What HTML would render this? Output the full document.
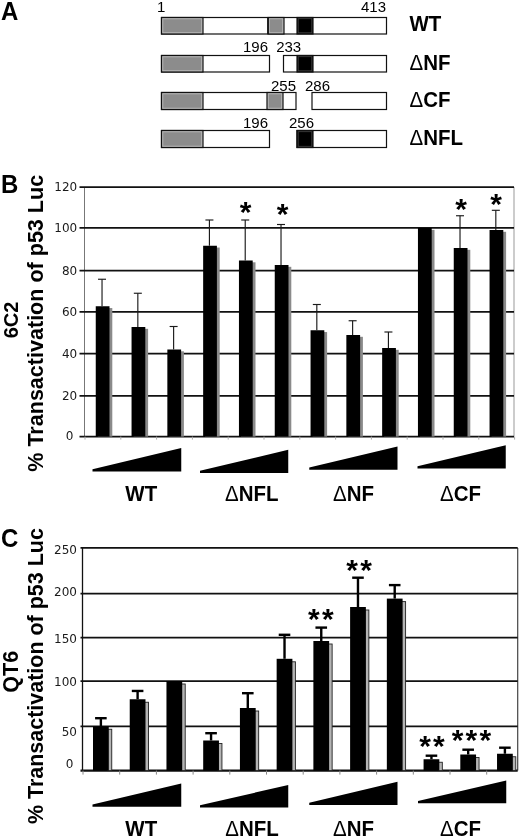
<!DOCTYPE html>
<html><head><meta charset="utf-8"><title>Figure</title>
<style>
html,body{margin:0;padding:0;background:#fff}
svg{display:block}
.b{font-family:"Liberation Sans",Arial,sans-serif;font-weight:bold;fill:#000}
.n{font-family:"Liberation Sans",Arial,sans-serif;font-weight:normal;fill:#000}
.v{font-family:"DejaVu Sans",Verdana,sans-serif;fill:#1a1a1a}
</style></head><body>
<svg width="520" height="838" viewBox="0 0 520 838">
<rect width="520" height="838" fill="#fff"/>

<g id="panelA">
<text class="b" font-size="24" text-anchor="start" transform="translate(1,19.5) scale(1,1.045)">A</text>
<rect x="161.5" y="17.5" width="225.0" height="16.5" fill="#fff" stroke="#111" stroke-width="1.2"/>
<rect x="161.5" y="17.5" width="41.5" height="16.5" fill="#8c8c8c" stroke="#111" stroke-width="1.2"/>
<rect x="162.8" y="18.8" width="38.9" height="13.9" fill="none" stroke="#b8b8b8" stroke-width="0.9"/>
<rect x="268" y="17.5" width="16" height="16.5" fill="#8c8c8c" stroke="#111" stroke-width="1.2"/>
<rect x="269.3" y="18.8" width="13.4" height="13.9" fill="none" stroke="#b8b8b8" stroke-width="0.9"/>
<rect x="297" y="17.5" width="16" height="16.5" fill="#000" stroke="#111" stroke-width="1.2"/>
<rect x="298.2" y="18.7" width="13.6" height="14.1" fill="none" stroke="#444" stroke-width="0.8"/>
<line x1="268" x2="268" y1="17.5" y2="34" stroke="#111" stroke-width="1.6"/>
<rect x="161.5" y="55.5" width="108.0" height="16.5" fill="#fff" stroke="#111" stroke-width="1.2"/>
<rect x="161.5" y="55.5" width="41.5" height="16.5" fill="#8c8c8c" stroke="#111" stroke-width="1.2"/>
<rect x="162.8" y="56.8" width="38.9" height="13.9" fill="none" stroke="#b8b8b8" stroke-width="0.9"/>
<rect x="283.5" y="55.5" width="103.0" height="16.5" fill="#fff" stroke="#111" stroke-width="1.2"/>
<rect x="297" y="55.5" width="16" height="16.5" fill="#000" stroke="#111" stroke-width="1.2"/>
<rect x="298.2" y="56.7" width="13.6" height="14.1" fill="none" stroke="#444" stroke-width="0.8"/>
<rect x="161.5" y="92.5" width="134.5" height="17.0" fill="#fff" stroke="#111" stroke-width="1.2"/>
<rect x="161.5" y="92.5" width="41.5" height="17.0" fill="#8c8c8c" stroke="#111" stroke-width="1.2"/>
<rect x="162.8" y="93.8" width="38.9" height="14.4" fill="none" stroke="#b8b8b8" stroke-width="0.9"/>
<rect x="267" y="92.5" width="16" height="17.0" fill="#8c8c8c" stroke="#111" stroke-width="1.2"/>
<rect x="268.3" y="93.8" width="13.4" height="14.4" fill="none" stroke="#b8b8b8" stroke-width="0.9"/>
<rect x="312" y="92.5" width="74.5" height="17.0" fill="#fff" stroke="#111" stroke-width="1.2"/>
<rect x="161.5" y="130.5" width="108.0" height="17.0" fill="#fff" stroke="#111" stroke-width="1.2"/>
<rect x="161.5" y="130.5" width="41.5" height="17.0" fill="#8c8c8c" stroke="#111" stroke-width="1.2"/>
<rect x="162.8" y="131.8" width="38.9" height="14.4" fill="none" stroke="#b8b8b8" stroke-width="0.9"/>
<rect x="297" y="130.5" width="89.5" height="17.0" fill="#fff" stroke="#111" stroke-width="1.2"/>
<rect x="297" y="130.5" width="16" height="17.0" fill="#000" stroke="#111" stroke-width="1.2"/>
<rect x="298.2" y="131.7" width="13.6" height="14.6" fill="none" stroke="#444" stroke-width="0.8"/>
<text class="n" x="157" y="12.1" font-size="15" text-anchor="start">1</text>
<text class="n" x="361" y="12.1" font-size="15" text-anchor="start">413</text>
<text class="n" x="243" y="52" font-size="15" text-anchor="start">196</text>
<text class="n" x="276.2" y="52" font-size="15" text-anchor="start">233</text>
<text class="n" x="271" y="90.5" font-size="15" text-anchor="start">255</text>
<text class="n" x="305" y="90.5" font-size="15" text-anchor="start">286</text>
<text class="n" x="243" y="128" font-size="15" text-anchor="start">196</text>
<text class="n" x="289" y="128" font-size="15" text-anchor="start">256</text>
<text class="b" font-size="20.5" text-anchor="start" transform="translate(409.5,30.5) scale(1,1.045)">WT</text>
<text class="b" font-size="20.5" text-anchor="start" transform="translate(409.5,70) scale(1,1.045)"><tspan font-weight="normal">Δ</tspan>NF</text>
<text class="b" font-size="20.5" text-anchor="start" transform="translate(409.5,106.5) scale(1,1.045)"><tspan font-weight="normal">Δ</tspan>CF</text>
<text class="b" font-size="20.5" text-anchor="start" transform="translate(409.5,144.5) scale(1,1.045)"><tspan font-weight="normal">Δ</tspan>NFL</text>
</g>
<g id="panelB">
<text class="b" font-size="24" text-anchor="start" transform="translate(1,192.5) scale(1,1.045)">B</text>
<text class="b" font-size="20" text-anchor="middle" transform="translate(17.9,320) rotate(-90) scale(1,1.045)">6C2</text>
<text class="b" font-size="21.55" text-anchor="middle" transform="translate(43.0,323.3) rotate(-90) scale(1,1.045)">% Transactivation of p53 Luc</text>
<line x1="84.5" x2="84.5" y1="187" y2="436.5" stroke="#777" stroke-width="1"/>
<line x1="514" x2="514" y1="187" y2="436.5" stroke="#999" stroke-width="1"/>
<line x1="79.5" x2="514" y1="187.20" y2="187.20" stroke="#111" stroke-width="1.7"/>
<text class="v" x="77.2" y="191.10" font-size="12" text-anchor="end">120</text>
<line x1="79.5" x2="514" y1="227.90" y2="227.90" stroke="#111" stroke-width="1.7"/>
<text class="v" x="77.2" y="231.80" font-size="12" text-anchor="end">100</text>
<line x1="79.5" x2="514" y1="270.60" y2="270.60" stroke="#111" stroke-width="1.7"/>
<text class="v" x="77.2" y="274.50" font-size="12" text-anchor="end">80</text>
<line x1="79.5" x2="514" y1="311.90" y2="311.90" stroke="#111" stroke-width="1.7"/>
<text class="v" x="77.2" y="315.80" font-size="12" text-anchor="end">60</text>
<line x1="79.5" x2="514" y1="353.60" y2="353.60" stroke="#111" stroke-width="1.7"/>
<text class="v" x="77.2" y="357.50" font-size="12" text-anchor="end">40</text>
<line x1="79.5" x2="514" y1="395.80" y2="395.80" stroke="#111" stroke-width="1.7"/>
<text class="v" x="77.2" y="399.70" font-size="12" text-anchor="end">20</text>
<line x1="79.5" x2="514" y1="436.60" y2="436.60" stroke="#111" stroke-width="1.7"/>
<text class="v" x="73.4" y="439.60" font-size="12" text-anchor="end">0</text>
<line x1="85.00" x2="85.00" y1="436.6" y2="439.6" stroke="#aaa" stroke-width="1"/>
<line x1="120.80" x2="120.80" y1="436.6" y2="439.6" stroke="#aaa" stroke-width="1"/>
<line x1="156.60" x2="156.60" y1="436.6" y2="439.6" stroke="#aaa" stroke-width="1"/>
<line x1="192.40" x2="192.40" y1="436.6" y2="439.6" stroke="#aaa" stroke-width="1"/>
<line x1="228.20" x2="228.20" y1="436.6" y2="439.6" stroke="#aaa" stroke-width="1"/>
<line x1="264.00" x2="264.00" y1="436.6" y2="439.6" stroke="#aaa" stroke-width="1"/>
<line x1="299.80" x2="299.80" y1="436.6" y2="439.6" stroke="#aaa" stroke-width="1"/>
<line x1="335.60" x2="335.60" y1="436.6" y2="439.6" stroke="#aaa" stroke-width="1"/>
<line x1="371.40" x2="371.40" y1="436.6" y2="439.6" stroke="#aaa" stroke-width="1"/>
<line x1="407.20" x2="407.20" y1="436.6" y2="439.6" stroke="#aaa" stroke-width="1"/>
<line x1="443.00" x2="443.00" y1="436.6" y2="439.6" stroke="#aaa" stroke-width="1"/>
<line x1="478.80" x2="478.80" y1="436.6" y2="439.6" stroke="#aaa" stroke-width="1"/>
<line x1="514.60" x2="514.60" y1="436.6" y2="439.6" stroke="#aaa" stroke-width="1"/>
<rect x="97.75" y="308.05" width="14.55" height="128.55" fill="#8a8a8a"/>
<rect x="95.75" y="306.25" width="13.75" height="130.35" fill="#000"/>
<line x1="102.03" x2="102.03" y1="279.25" y2="306.25" stroke="#1a1a1a" stroke-width="1.15"/>
<line x1="98.03" x2="106.03" y1="279.25" y2="279.25" stroke="#1a1a1a" stroke-width="1.15"/>
<rect x="133.55" y="328.80" width="14.55" height="107.80" fill="#8a8a8a"/>
<rect x="131.55" y="327.00" width="13.75" height="109.60" fill="#000"/>
<line x1="137.83" x2="137.83" y1="293.25" y2="327" stroke="#1a1a1a" stroke-width="1.15"/>
<line x1="133.83" x2="141.83" y1="293.25" y2="293.25" stroke="#1a1a1a" stroke-width="1.15"/>
<rect x="169.35" y="351.30" width="14.55" height="85.30" fill="#8a8a8a"/>
<rect x="167.35" y="349.50" width="13.75" height="87.10" fill="#000"/>
<line x1="173.62" x2="173.62" y1="326.5" y2="349.5" stroke="#1a1a1a" stroke-width="1.15"/>
<line x1="169.62" x2="177.62" y1="326.5" y2="326.5" stroke="#1a1a1a" stroke-width="1.15"/>
<rect x="205.15" y="247.55" width="14.55" height="189.05" fill="#8a8a8a"/>
<rect x="203.15" y="245.75" width="13.75" height="190.85" fill="#000"/>
<line x1="209.42" x2="209.42" y1="220" y2="245.75" stroke="#1a1a1a" stroke-width="1.15"/>
<line x1="205.42" x2="213.42" y1="220" y2="220" stroke="#1a1a1a" stroke-width="1.15"/>
<rect x="240.95" y="262.30" width="14.55" height="174.30" fill="#8a8a8a"/>
<rect x="238.95" y="260.50" width="13.75" height="176.10" fill="#000"/>
<line x1="245.22" x2="245.22" y1="220" y2="260.5" stroke="#1a1a1a" stroke-width="1.15"/>
<line x1="241.22" x2="249.22" y1="220" y2="220" stroke="#1a1a1a" stroke-width="1.15"/>
<rect x="276.75" y="266.80" width="14.55" height="169.80" fill="#8a8a8a"/>
<rect x="274.75" y="265.00" width="13.75" height="171.60" fill="#000"/>
<line x1="281.02" x2="281.02" y1="224.5" y2="265" stroke="#1a1a1a" stroke-width="1.15"/>
<line x1="277.02" x2="285.02" y1="224.5" y2="224.5" stroke="#1a1a1a" stroke-width="1.15"/>
<rect x="312.55" y="332.05" width="14.55" height="104.55" fill="#8a8a8a"/>
<rect x="310.55" y="330.25" width="13.75" height="106.35" fill="#000"/>
<line x1="316.82" x2="316.82" y1="304.5" y2="330.25" stroke="#1a1a1a" stroke-width="1.15"/>
<line x1="312.82" x2="320.82" y1="304.5" y2="304.5" stroke="#1a1a1a" stroke-width="1.15"/>
<rect x="348.35" y="336.80" width="14.55" height="99.80" fill="#8a8a8a"/>
<rect x="346.35" y="335.00" width="13.75" height="101.60" fill="#000"/>
<line x1="352.62" x2="352.62" y1="320.75" y2="335" stroke="#1a1a1a" stroke-width="1.15"/>
<line x1="348.62" x2="356.62" y1="320.75" y2="320.75" stroke="#1a1a1a" stroke-width="1.15"/>
<rect x="384.15" y="349.80" width="14.55" height="86.80" fill="#8a8a8a"/>
<rect x="382.15" y="348.00" width="13.75" height="88.60" fill="#000"/>
<line x1="388.42" x2="388.42" y1="332" y2="348" stroke="#1a1a1a" stroke-width="1.15"/>
<line x1="384.42" x2="392.42" y1="332" y2="332" stroke="#1a1a1a" stroke-width="1.15"/>
<rect x="419.95" y="229.80" width="14.55" height="206.80" fill="#8a8a8a"/>
<rect x="417.95" y="228.00" width="13.75" height="208.60" fill="#000"/>
<rect x="455.75" y="249.80" width="14.55" height="186.80" fill="#8a8a8a"/>
<rect x="453.75" y="248.00" width="13.75" height="188.60" fill="#000"/>
<line x1="460.02" x2="460.02" y1="215.75" y2="248" stroke="#1a1a1a" stroke-width="1.15"/>
<line x1="456.02" x2="464.02" y1="215.75" y2="215.75" stroke="#1a1a1a" stroke-width="1.15"/>
<rect x="491.55" y="231.80" width="14.55" height="204.80" fill="#8a8a8a"/>
<rect x="489.55" y="230.00" width="13.75" height="206.60" fill="#000"/>
<line x1="495.82" x2="495.82" y1="210.3" y2="230" stroke="#1a1a1a" stroke-width="1.15"/>
<line x1="491.82" x2="499.82" y1="210.3" y2="210.3" stroke="#1a1a1a" stroke-width="1.15"/>
<text class="b" x="245.60" y="222.10" font-size="30" text-anchor="middle">*</text>
<text class="b" x="282.50" y="223.85" font-size="30" text-anchor="middle">*</text>
<text class="b" x="461.00" y="219.10" font-size="30" text-anchor="middle">*</text>
<text class="b" x="496.20" y="213.80" font-size="30" text-anchor="middle">*</text>
<polygon points="92.5,469.2 181.25,448 181.25,471.5 92.5,471.5" fill="#000"/>
<polygon points="200,470.7 288.25,449.75 288.25,473 200,473" fill="#000"/>
<polygon points="309.25,467.45 397.5,446.5 397.5,469.75 309.25,469.75" fill="#000"/>
<polygon points="417.5,466.2 505.75,445.25 505.75,468.5 417.5,468.5" fill="#000"/>
<text class="b" font-size="20.5" text-anchor="middle" transform="translate(141.25,500.5) scale(1,1.045)">WT</text>
<text class="b" font-size="20.5" text-anchor="middle" transform="translate(251.7,500.8) scale(1,1.045)"><tspan font-weight="normal">Δ</tspan>NFL</text>
<text class="b" font-size="20.5" text-anchor="middle" transform="translate(353.6,500.9) scale(1,1.045)"><tspan font-weight="normal">Δ</tspan>NF</text>
<text class="b" font-size="20.5" text-anchor="middle" transform="translate(460.6,500.9) scale(1,1.045)"><tspan font-weight="normal">Δ</tspan>CF</text>
</g>
<g id="panelC">
<text class="b" font-size="24" text-anchor="start" transform="translate(1,547) scale(1,1.045)">C</text>
<text class="b" font-size="21.5" text-anchor="middle" transform="translate(17.9,671.8) rotate(-90) scale(1,1.045)">QT6</text>
<text class="b" font-size="21.5" text-anchor="middle" transform="translate(42.9,676.1) rotate(-90) scale(1,1.045)">% Transactivation of p53 Luc</text>
<line x1="82.5" x2="82.5" y1="548" y2="770.5" stroke="#111" stroke-width="1.3"/>
<line x1="517.7" x2="517.7" y1="548" y2="770.5" stroke="#444" stroke-width="1.2"/>
<line x1="80.5" x2="517.7" y1="547.90" y2="547.90" stroke="#111" stroke-width="1.75"/>
<text class="v" x="77" y="554.25" font-size="12" text-anchor="end">250</text>
<line x1="80.5" x2="517.7" y1="593.50" y2="593.50" stroke="#111" stroke-width="1.75"/>
<text class="v" x="77" y="595.9" font-size="12" text-anchor="end">200</text>
<line x1="80.5" x2="517.7" y1="637.70" y2="637.70" stroke="#111" stroke-width="1.75"/>
<text class="v" x="77" y="643" font-size="12" text-anchor="end">150</text>
<line x1="80.5" x2="517.7" y1="681.00" y2="681.00" stroke="#111" stroke-width="1.75"/>
<text class="v" x="77" y="686" font-size="12" text-anchor="end">100</text>
<line x1="80.5" x2="517.7" y1="726.40" y2="726.40" stroke="#111" stroke-width="1.75"/>
<text class="v" x="77" y="736.25" font-size="12" text-anchor="end">50</text>
<line x1="80.5" x2="517.7" y1="770.60" y2="770.60" stroke="#111" stroke-width="2.1"/>
<text class="v" x="73.5" y="768" font-size="12" text-anchor="end">0</text>
<line x1="83.00" x2="83.00" y1="770.6" y2="774.6" stroke="#888" stroke-width="1"/>
<line x1="119.70" x2="119.70" y1="770.6" y2="774.6" stroke="#888" stroke-width="1"/>
<line x1="156.40" x2="156.40" y1="770.6" y2="774.6" stroke="#888" stroke-width="1"/>
<line x1="193.10" x2="193.10" y1="770.6" y2="774.6" stroke="#888" stroke-width="1"/>
<line x1="229.80" x2="229.80" y1="770.6" y2="774.6" stroke="#888" stroke-width="1"/>
<line x1="266.50" x2="266.50" y1="770.6" y2="774.6" stroke="#888" stroke-width="1"/>
<line x1="303.20" x2="303.20" y1="770.6" y2="774.6" stroke="#888" stroke-width="1"/>
<line x1="339.90" x2="339.90" y1="770.6" y2="774.6" stroke="#888" stroke-width="1"/>
<line x1="376.60" x2="376.60" y1="770.6" y2="774.6" stroke="#888" stroke-width="1"/>
<line x1="413.30" x2="413.30" y1="770.6" y2="774.6" stroke="#888" stroke-width="1"/>
<line x1="450.00" x2="450.00" y1="770.6" y2="774.6" stroke="#888" stroke-width="1"/>
<line x1="486.70" x2="486.70" y1="770.6" y2="774.6" stroke="#888" stroke-width="1"/>
<rect x="107.75" y="729.25" width="4" height="41.35" fill="#b4b4b4" stroke="#222" stroke-width="0.9"/>
<rect x="93.00" y="726.25" width="15.75" height="44.35" fill="#000"/>
<line x1="100.88" x2="100.88" y1="718" y2="726.25" stroke="#000" stroke-width="2.4"/>
<line x1="95.08" x2="106.67" y1="718.2" y2="718.2" stroke="#000" stroke-width="2.4"/>
<rect x="144.48" y="702.25" width="4" height="68.35" fill="#b4b4b4" stroke="#222" stroke-width="0.9"/>
<rect x="129.73" y="699.25" width="15.75" height="71.35" fill="#000"/>
<line x1="137.60" x2="137.60" y1="690.75" y2="699.25" stroke="#000" stroke-width="2.4"/>
<line x1="131.80" x2="143.41" y1="690.95" y2="690.95" stroke="#000" stroke-width="2.4"/>
<rect x="181.21" y="684.00" width="4" height="86.60" fill="#b4b4b4" stroke="#222" stroke-width="0.9"/>
<rect x="166.46" y="681.00" width="15.75" height="89.60" fill="#000"/>
<rect x="217.94" y="743.50" width="4" height="27.10" fill="#b4b4b4" stroke="#222" stroke-width="0.9"/>
<rect x="203.19" y="740.50" width="15.75" height="30.10" fill="#000"/>
<line x1="211.06" x2="211.06" y1="733" y2="740.5" stroke="#000" stroke-width="2.4"/>
<line x1="205.26" x2="216.87" y1="733.2" y2="733.2" stroke="#000" stroke-width="2.4"/>
<rect x="254.67" y="711.00" width="4" height="59.60" fill="#b4b4b4" stroke="#222" stroke-width="0.9"/>
<rect x="239.92" y="708.00" width="15.75" height="62.60" fill="#000"/>
<line x1="247.79" x2="247.79" y1="693" y2="708" stroke="#000" stroke-width="2.4"/>
<line x1="241.99" x2="253.59" y1="693.2" y2="693.2" stroke="#000" stroke-width="2.4"/>
<rect x="291.40" y="661.80" width="4" height="108.80" fill="#b4b4b4" stroke="#222" stroke-width="0.9"/>
<rect x="276.65" y="658.80" width="15.75" height="111.80" fill="#000"/>
<line x1="284.52" x2="284.52" y1="634.6" y2="658.8" stroke="#000" stroke-width="2.4"/>
<line x1="278.72" x2="290.32" y1="634.8000000000001" y2="634.8000000000001" stroke="#000" stroke-width="2.4"/>
<rect x="328.13" y="644.00" width="4" height="126.60" fill="#b4b4b4" stroke="#222" stroke-width="0.9"/>
<rect x="313.38" y="641.00" width="15.75" height="129.60" fill="#000"/>
<line x1="321.25" x2="321.25" y1="627.4" y2="641" stroke="#000" stroke-width="2.4"/>
<line x1="315.45" x2="327.06" y1="627.6" y2="627.6" stroke="#000" stroke-width="2.4"/>
<rect x="364.86" y="610.00" width="4" height="160.60" fill="#b4b4b4" stroke="#222" stroke-width="0.9"/>
<rect x="350.11" y="607.00" width="15.75" height="163.60" fill="#000"/>
<line x1="357.98" x2="357.98" y1="577.5" y2="607" stroke="#000" stroke-width="2.4"/>
<line x1="352.18" x2="363.78" y1="577.7" y2="577.7" stroke="#000" stroke-width="2.4"/>
<rect x="401.59" y="601.60" width="4" height="169.00" fill="#b4b4b4" stroke="#222" stroke-width="0.9"/>
<rect x="386.84" y="598.60" width="15.75" height="172.00" fill="#000"/>
<line x1="394.71" x2="394.71" y1="584.9" y2="598.6" stroke="#000" stroke-width="2.4"/>
<line x1="388.91" x2="400.51" y1="585.1" y2="585.1" stroke="#000" stroke-width="2.4"/>
<rect x="438.32" y="762.25" width="4" height="8.35" fill="#b4b4b4" stroke="#222" stroke-width="0.9"/>
<rect x="423.57" y="759.25" width="15.75" height="11.35" fill="#000"/>
<line x1="431.44" x2="431.44" y1="755.5" y2="759.25" stroke="#000" stroke-width="2.4"/>
<line x1="425.64" x2="437.25" y1="755.7" y2="755.7" stroke="#000" stroke-width="2.4"/>
<rect x="475.05" y="757.50" width="4" height="13.10" fill="#b4b4b4" stroke="#222" stroke-width="0.9"/>
<rect x="460.30" y="754.50" width="15.75" height="16.10" fill="#000"/>
<line x1="468.17" x2="468.17" y1="749.5" y2="754.5" stroke="#000" stroke-width="2.4"/>
<line x1="462.37" x2="473.97" y1="749.7" y2="749.7" stroke="#000" stroke-width="2.4"/>
<rect x="511.78" y="756.75" width="4" height="13.85" fill="#b4b4b4" stroke="#222" stroke-width="0.9"/>
<rect x="497.03" y="753.75" width="15.75" height="16.85" fill="#000"/>
<line x1="504.90" x2="504.90" y1="747.5" y2="753.75" stroke="#000" stroke-width="2.4"/>
<line x1="499.10" x2="510.70" y1="747.7" y2="747.7" stroke="#000" stroke-width="2.4"/>
<text class="b" x="313.85" y="628.60" font-size="30" text-anchor="middle">*</text>
<text class="b" x="327.75" y="628.60" font-size="30" text-anchor="middle">*</text>
<text class="b" x="352.15" y="579.60" font-size="30" text-anchor="middle">*</text>
<text class="b" x="366.05" y="579.60" font-size="30" text-anchor="middle">*</text>
<text class="b" x="425.05" y="756.30" font-size="30" text-anchor="middle">*</text>
<text class="b" x="438.95" y="756.30" font-size="30" text-anchor="middle">*</text>
<text class="b" x="457.50" y="750.10" font-size="30" text-anchor="middle">*</text>
<text class="b" x="471.40" y="750.10" font-size="30" text-anchor="middle">*</text>
<text class="b" x="485.30" y="750.10" font-size="30" text-anchor="middle">*</text>
<polygon points="92.5,804.45 181.25,783.5 181.25,806.75 92.5,806.75" fill="#000"/>
<polygon points="200,805.2 288.25,785 288.25,807.5 200,807.5" fill="#000"/>
<polygon points="309.25,802.7 397.5,781.75 397.5,805 309.25,805" fill="#000"/>
<polygon points="418,800.95 506.25,780.5 506.25,803.25 418,803.25" fill="#000"/>
<text class="b" font-size="20.5" text-anchor="middle" transform="translate(141.25,835.5) scale(1,1.045)">WT</text>
<text class="b" font-size="20.5" text-anchor="middle" transform="translate(252,836) scale(1,1.045)"><tspan font-weight="normal">Δ</tspan>NFL</text>
<text class="b" font-size="20.5" text-anchor="middle" transform="translate(353.6,836) scale(1,1.045)"><tspan font-weight="normal">Δ</tspan>NF</text>
<text class="b" font-size="20.5" text-anchor="middle" transform="translate(460.6,836) scale(1,1.045)"><tspan font-weight="normal">Δ</tspan>CF</text>
</g>
</svg>
</body></html>
